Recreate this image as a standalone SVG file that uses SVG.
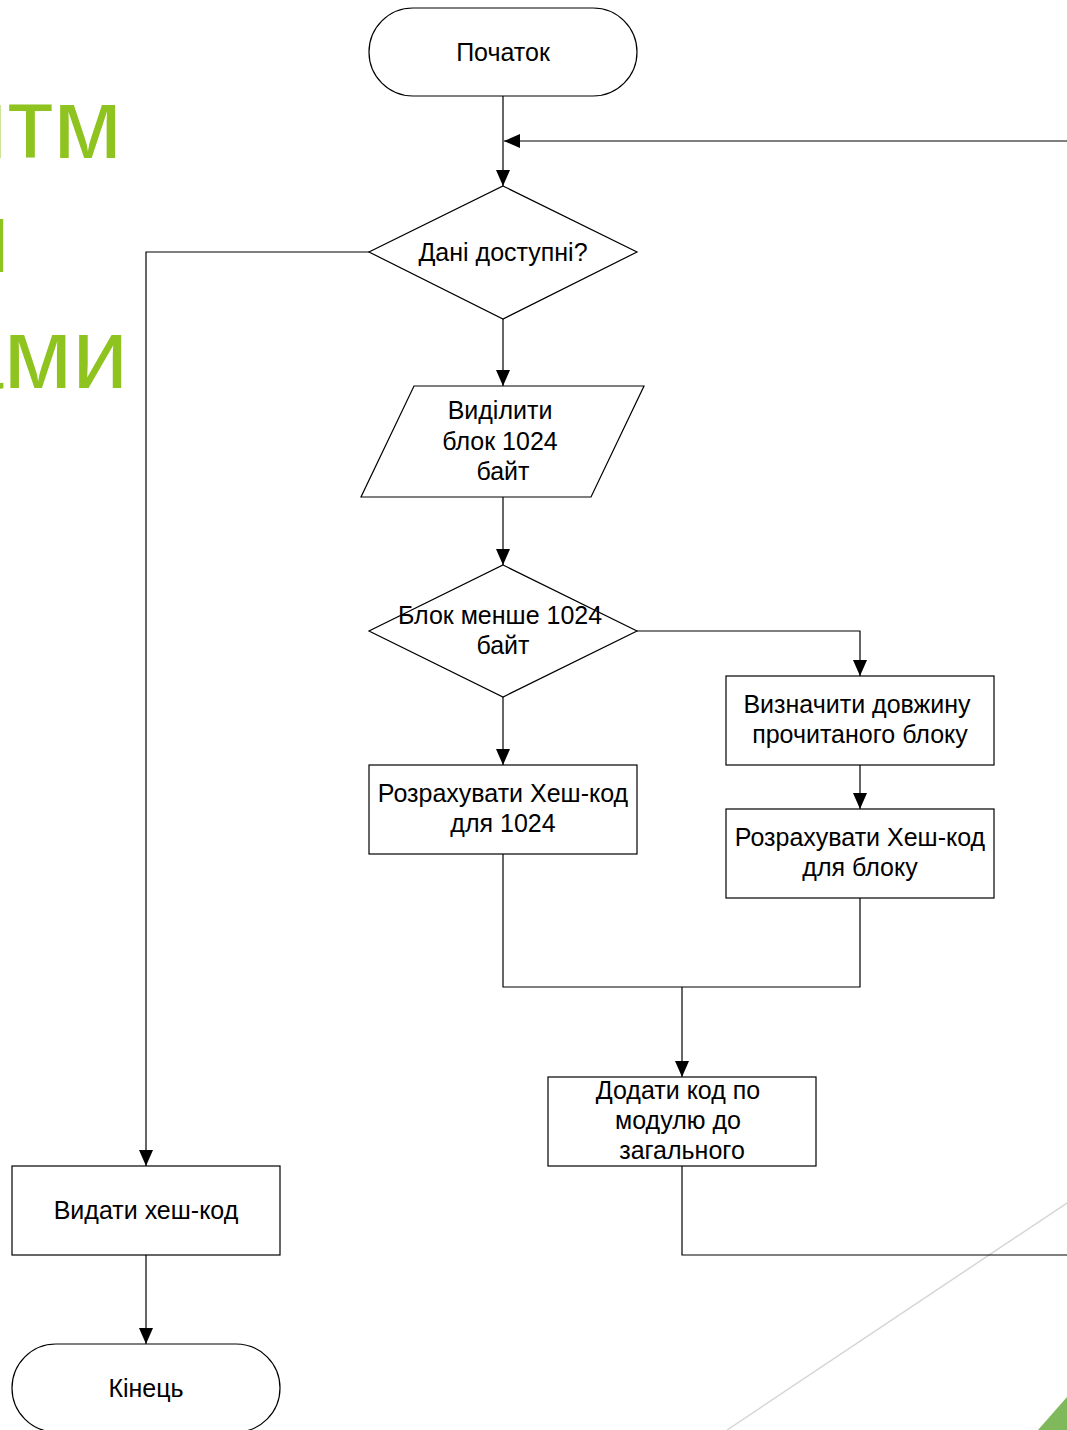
<svg xmlns="http://www.w3.org/2000/svg" width="1067" height="1430" viewBox="0 0 1067 1430">
<defs>
<marker id="ah" markerWidth="16" markerHeight="14" refX="16" refY="7" orient="auto" markerUnits="userSpaceOnUse">
<path d="M0,0 L16,7 L0,14 Z" fill="#000"/>
</marker>
<style>
.s{fill:#fff;stroke:#000;stroke-width:1.2}
.t{font-family:"Liberation Sans",Arial,sans-serif;font-size:25px;fill:#000;text-anchor:middle}
.c{fill:none;stroke:#000;stroke-width:1.2}
.g{font-family:"Liberation Sans",Arial,sans-serif;font-size:100px;fill:#8fc31f;text-anchor:end}
</style>
</defs>
<rect width="1067" height="1430" fill="#fff"/>
<g id="background">
<text class="g" x="122" y="158">итм</text>
<text class="g" x="10" y="272">и</text>
<text class="g" x="128" y="388">ами</text>
<line x1="727" y1="1430" x2="1067" y2="1203" stroke="#d6d6d6" stroke-width="1.5"/>
<polygon points="1038,1430 1067,1397 1067,1430" fill="#80b85c"/>
</g>
<g id="connectors">
<path class="c" d="M503,96 V186" marker-end="url(#ah)"/>
<path class="c" d="M1067,141 H504" marker-end="url(#ah)"/>
<path class="c" d="M369,252 H146 V1166" marker-end="url(#ah)"/>
<path class="c" d="M503,319 V386" marker-end="url(#ah)"/>
<path class="c" d="M503,497 V565" marker-end="url(#ah)"/>
<path class="c" d="M637,631 H860 V676" marker-end="url(#ah)"/>
<path class="c" d="M503,697 V765" marker-end="url(#ah)"/>
<path class="c" d="M860,765 V809" marker-end="url(#ah)"/>
<path class="c" d="M503,854 V987 H860 V898"/>
<path class="c" d="M682,987 V1077" marker-end="url(#ah)"/>
<path class="c" d="M682,1166 V1255 H1067"/>
<path class="c" d="M146,1255 V1344" marker-end="url(#ah)"/>
</g>
<g id="start">
<rect class="s" x="369" y="8" width="268" height="88" rx="44" ry="44"/>
<text class="t" x="503" y="61">Початок</text>
</g>
<g id="check-data">
<polygon class="s" points="503,186 637,252 503,319 369,252"/>
<text class="t" x="503" y="261">Дані доступні?</text>
</g>
<g id="read-block">
<polygon class="s" points="414,386 644,386 591,497 361,497"/>
<text class="t" x="500" y="419">Виділити</text>
<text class="t" x="500" y="450">блок 1024</text>
<text class="t" x="503" y="480">байт</text>
</g>
<g id="check-size">
<polygon class="s" points="503,565 637,631 503,697 369,631"/>
<text class="t" x="500" y="624">Блок менше 1024</text>
<text class="t" x="503" y="654">байт</text>
</g>
<g id="get-length">
<rect class="s" x="726" y="676" width="268" height="89"/>
<text class="t" x="857" y="713">Визначити довжину</text>
<text class="t" x="860" y="743">прочитаного блоку</text>
</g>
<g id="hash-1024">
<rect class="s" x="369" y="765" width="268" height="89"/>
<text class="t" x="503" y="802">Розрахувати Хеш-код</text>
<text class="t" x="503" y="832">для 1024</text>
</g>
<g id="hash-block">
<rect class="s" x="726" y="809" width="268" height="89"/>
<text class="t" x="860" y="846">Розрахувати Хеш-код</text>
<text class="t" x="860" y="876">для блоку</text>
</g>
<g id="add-code">
<rect class="s" x="548" y="1077" width="268" height="89"/>
<text class="t" x="678" y="1099">Додати код по</text>
<text class="t" x="678" y="1129">модулю до</text>
<text class="t" x="682" y="1159">загального</text>
</g>
<g id="output">
<rect class="s" x="12" y="1166" width="268" height="89"/>
<text class="t" x="146" y="1219">Видати хеш-код</text>
</g>
<g id="end">
<rect class="s" x="12" y="1344" width="268" height="88" rx="44" ry="44"/>
<text class="t" x="146" y="1397">Кінець</text>
</g>
</svg>
